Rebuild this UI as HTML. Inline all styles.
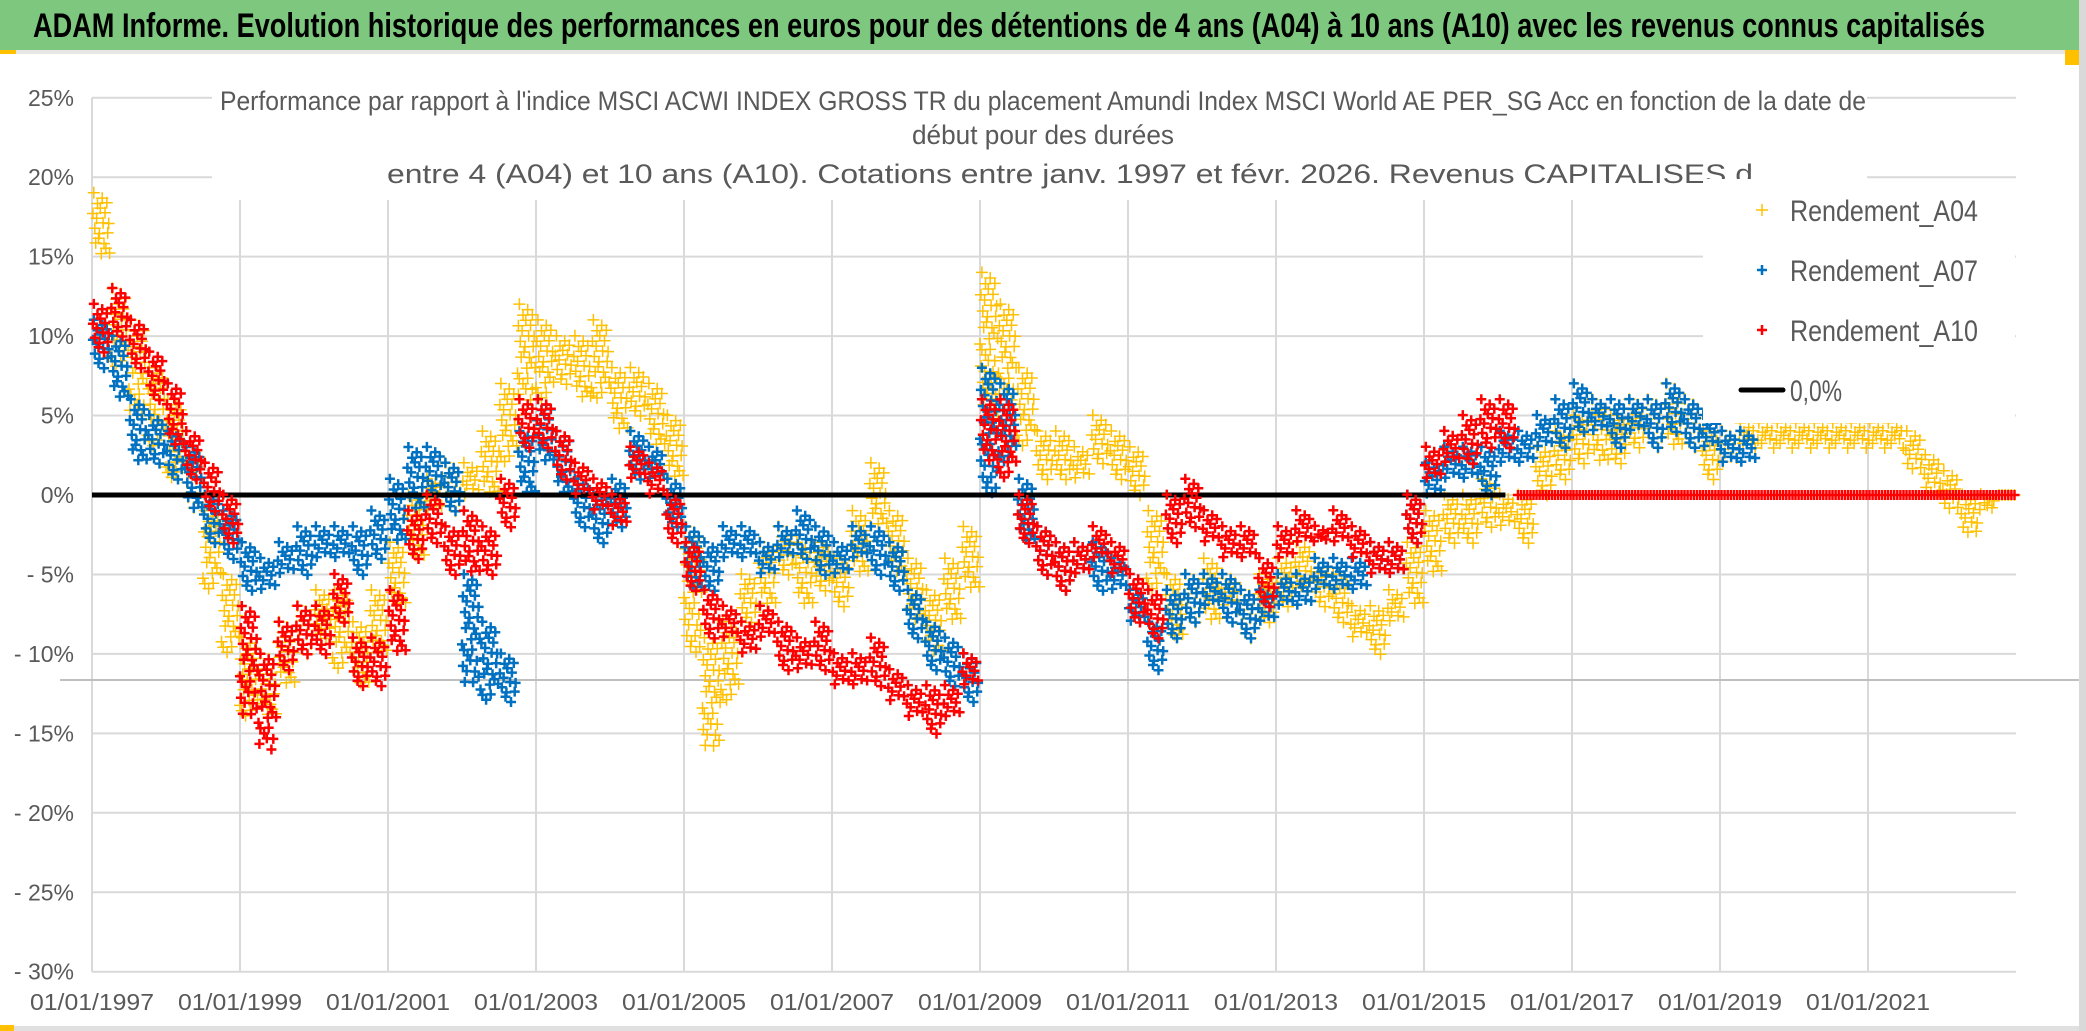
<!DOCTYPE html>
<html><head><meta charset="utf-8"><style>
html,body{margin:0;padding:0;background:#fff}
svg{display:block}
</style></head><body>
<svg id="chart" width="2086" height="1031" viewBox="0 0 2086 1031" xmlns="http://www.w3.org/2000/svg" font-family="'Liberation Sans', sans-serif">
<rect x="0" y="0" width="2086" height="1031" fill="#ffffff"/>
<rect x="2079" y="0" width="7" height="1031" fill="#d9d9d9"/>
<rect x="0" y="0" width="2079" height="50" fill="#7dc87e"/>
<rect x="0" y="50" width="2079" height="4" fill="#e6e6e6"/>
<rect x="0" y="50" width="16" height="4" fill="#ffc000"/>
<rect x="2065" y="50" width="14" height="15" fill="#ffc000"/>
<rect x="0" y="1026" width="2079" height="5" fill="#e0e0e0"/>
<rect x="0" y="1025" width="14" height="6" fill="#ffc000"/>
<text x="33" y="37" font-size="34" font-weight="bold" fill="#000" textLength="1952" lengthAdjust="spacingAndGlyphs">ADAM Informe. Evolution historique des performances en euros pour des détentions de 4 ans (A04) à 10 ans (A10) avec les revenus connus capitalisés</text>
<g id="grid"></g>
<line x1="60" y1="680" x2="2079" y2="680" stroke="#bfbfbf" stroke-width="2"/>
<g id="marks"></g>
<rect x="212" y="78" width="1655" height="122" fill="#fff"/>
<text x="220" y="110" font-size="27" fill="#595959" textLength="1646" lengthAdjust="spacingAndGlyphs">Performance par rapport à l'indice MSCI ACWI INDEX GROSS TR  du placement Amundi Index MSCI World AE PER_SG Acc en fonction de la date de</text>
<text x="912" y="144" font-size="27" fill="#595959" textLength="262" lengthAdjust="spacingAndGlyphs">début pour des durées</text>
<text x="387" y="183" font-size="27" fill="#595959" textLength="1366" lengthAdjust="spacingAndGlyphs">entre 4 (A04) et 10 ans (A10). Cotations entre janv. 1997 et févr. 2026. Revenus CAPITALISES d</text>
<rect x="1703" y="179" width="312" height="244" fill="#fff"/>
<g font-size="30" fill="#595959">
 <g><path d="M1756 210h12M1762 204v12" stroke="#ffc000" stroke-width="1.5"/><text x="1790" y="221" textLength="188" lengthAdjust="spacingAndGlyphs">Rendement_A04</text></g>
 <g><path d="M1757 270h10M1762 265v10" stroke="#0070c0" stroke-width="2.5"/><text x="1790" y="281" textLength="188" lengthAdjust="spacingAndGlyphs">Rendement_A07</text></g>
 <g><path d="M1757 330h10M1762 325v10" stroke="#ff0000" stroke-width="2.5"/><text x="1790" y="341" textLength="188" lengthAdjust="spacingAndGlyphs">Rendement_A10</text></g>
 <g><line x1="1741" y1="390" x2="1783" y2="390" stroke="#000" stroke-width="5" stroke-linecap="round"/><text x="1790" y="401" textLength="52" lengthAdjust="spacingAndGlyphs">0,0%</text></g>
</g>
<g id="axes"></g>
</svg>
<script>
const yTicks=[25,20,15,10,5,0,-5,-10,-15,-20,-25,-30];
const yTickLabels=["25%","20%","15%","10%","5%","0%","- 5%","- 10%","- 15%","- 20%","- 25%","- 30%"];
const xTicks=[1997,1999,2001,2003,2005,2007,2009,2011,2013,2015,2017,2019,2021];
const xTickLabels=["01/01/1997","01/01/1999","01/01/2001","01/01/2003","01/01/2005","01/01/2007","01/01/2009","01/01/2011","01/01/2013","01/01/2015","01/01/2017","01/01/2019","01/01/2021"];
const startYear=1997, stepYear=0.25, endYear=2023;
// A04 low / high per quarter from 1997.0
const a04Lo=[15,8,5,3,1,-1,-6,-10,-14,-14,-12,-10,-9,-11,-12,-10,-7,-4,-1,-1,0,0,2,6,6,7,6,6,4,5,3,1,-10,-16,-13,-8,-7,-5,-7,-6,-7,-5,-2,-5,-8,-10,-8,-6,5,6,3,1,1,1,2,1,0,-6,-9,-8,-8,-7,-9,-8,-7,-6,-7,-8,-9,-10,-8,-7,-5,-3,-3,-2,-2,-3,0,1,2,2,2,3,3,3,3,1,2,3,3,3,3,3,3,3,3,3,1.5,0,-1,-2.5,-1,0,0,0];
const a04Hi=[19,13,11,8,6,3,-1,-5,-9,-10,-8,-7,-6,-6,-8,-6,-3,0,1,2,2,4,7,12,11,10,10,11,8,8,7,5,-2,-9,-8,-5,-3,-2,-3,-3,-4,-1,2,-1,-4,-6,-4,-2,14,12,8,4,4,3,5,4,3,-1,-5,-5,-4,-5,-6,-5,-4,-3,-4,-5,-7,-7,-6,-3,-1,0,0,1,0,0,3,4,5,6,5,6,6,7,6,4,4,4.5,4.5,4.5,4.5,4.5,4.5,4.5,4.5,4.5,4,2.5,1.5,0,0,0,0,0];
// A07
const a07Lo=[8,6,2,2,1,-1,-3,-4,-6,-6,-5,-5,-4,-4,-5,-4,-3,-1,0,-1,-12,-13,-13,0,2,0,-2,-3,-2,1,1,-2,-6,-6,-4,-4,-5,-4,-4,-5,-5,-4,-5,-6,-9,-11,-12,-13,0,2,-3,-5,-6,-5,-6,-6,-8,-11,-9,-8,-7,-8,-9,-8,-7,-7,-6,-6,-6,-5,-5,-3,0,1,1,0,2,2,3,3,4,4,3,4,3,4,3,3,2,2];
const a07Hi=[11,10,6,5,4,3,0,-1,-3,-4,-3,-2,-2,-2,-2,-1,1,3,3,2,-5,-8,-10,4,6,4,1,0,1,4,3,1,-2,-3,-2,-2,-3,-2,-1,-2,-3,-2,-2,-3,-6,-8,-9,-10,8,7,1,-2,-3,-3,-3,-4,-6,-8,-6,-5,-5,-5,-6,-6,-5,-5,-4,-4,-4,-3,-3,0,2,3,3,3,4,4,5,6,7,6,6,6,6,7,6,5,4,4];
// A10
const a10Lo=[9,10,8,6,3,1,-1,-3,-14,-16,-11,-10,-10,-8,-12,-12,-10,-4,-3,-5,-5,-5,-2,3,3,1,0,-1,-2,1,0,-3,-6,-9,-9,-10,-9,-11,-11,-11,-12,-12,-12,-13,-14,-15,-14,-12,2,1,-3,-5,-6,-5,-4,-5,-8,-9,-3,-2,-3,-4,-4,-7,-4,-3,-3,-3,-4,-5,-5,-3,1,2,2,3,3,0,0,0,0,0,0,0,0,0,0,0,0,0,0,0,0,0,0,0,0,0,0,0,0,0,0,0,0,0];
const a10Hi=[12,13,11,9,7,4,2,0,-7,-10,-8,-7,-7,-5,-9,-9,-6,-1,0,-2,-1,-2,1,6,6,4,2,1,0,3,2,0,-3,-6,-7,-8,-7,-8,-9,-8,-10,-10,-9,-11,-12,-12,-12,-10,6,6,0,-2,-3,-3,-2,-3,-5,-6,0,1,-1,-2,-2,-4,-2,-1,-2,-1,-2,-3,-3,0,3,4,5,6,6,0,0,0,0,0,0,0,0,0,0,0,0,0,0,0,0,0,0,0,0,0,0,0,0,0,0,0,0,0];

const X0=92, PXYR=74, Y0=495, PXPC=15.89;
function xs(yr){return X0+(yr-1997)*PXYR;}
function ys(v){return Y0-v*PXPC;}
const NS="http://www.w3.org/2000/svg";
const grid=document.getElementById('grid'), axes=document.getElementById('axes'), marks=document.getElementById('marks');
function mk(tag,attrs,parent){const e=document.createElementNS(NS,tag);for(const k in attrs)e.setAttribute(k,attrs[k]);parent.appendChild(e);return e;}

yTicks.forEach((t,i)=>{
 const g=mk('line',{x1:xs(1997),x2:xs(2023),y1:ys(t),y2:ys(t),stroke:'#d9d9d9','stroke-width':2},grid);
 
 
 const tx=mk('text',{x:74,y:ys(t)+8,'font-size':23,fill:'#595959','text-anchor':'end'},axes);
 tx.textContent=yTickLabels[i];
 
 
});
xTicks.forEach((t,i)=>{
 const g=mk('line',{x1:xs(t),x2:xs(t),y1:200,y2:ys(-30),stroke:'#d9d9d9','stroke-width':2},grid);
 
 
 const tx=mk('text',{x:xs(t),y:1010,'font-size':23,fill:'#595959','text-anchor':'middle',textLength:124,lengthAdjust:'spacingAndGlyphs'},axes);
 tx.textContent=xTickLabels[i];
 
 
});
const yax=mk('line',{x1:92,x2:92,y1:ys(25),y2:ys(-30),stroke:'#d9d9d9','stroke-width':2},grid);



const offs=[0.1,0.55,0.3,0.8,0.45,0.05,0.7,0.25,0.9,0.6,0.15,0.4,0.85,0.35,0.65,0.2,0.75,0.5,0.95,0.0];
function series(lo,hi,color,sw,sz,name){
 let d='';
 const w=stepYear*PXYR;
 for(let i=0;i<lo.length;i++){
  const yr=startYear+i*stepYear;
  if(yr>=endYear) break;
  const x0=xs(yr);
  const y1=ys(hi[i]), y2=ys(lo[i]);
  const flat=(y2-y1)<1;
  const n=flat?6:Math.max(5,Math.round((y2-y1)/4)+3);
  for(let k=0;k<n;k++){
   const x=flat?x0+(k+0.5)/n*w:x0+offs[k%offs.length]*w;
   const y=flat?y1:y1+(y2-y1)*((k+0.5)/n)+((k%3)-1)*2;
   d+=`M${(x-sz).toFixed(1)} ${y.toFixed(1)}h${2*sz}M${x.toFixed(1)} ${(y-sz).toFixed(1)}v${2*sz}`;
  }
 }
 const p=mk('path',{d:d,stroke:color,'stroke-width':sw,fill:'none'},marks);
 
 
}
series(a04Lo,a04Hi,'#ffc000',1.5,6,'series-a04');
series(a07Lo,a07Hi,'#0070c0',2.5,5,'series-a07');
const z=mk('line',{x1:xs(1997),x2:xs(2016.1),y1:ys(0),y2:ys(0),stroke:'#000','stroke-width':5},marks);


series(a10Lo,a10Hi,'#ff0000',2.5,5,'series-a10');
</script>
</body></html>
